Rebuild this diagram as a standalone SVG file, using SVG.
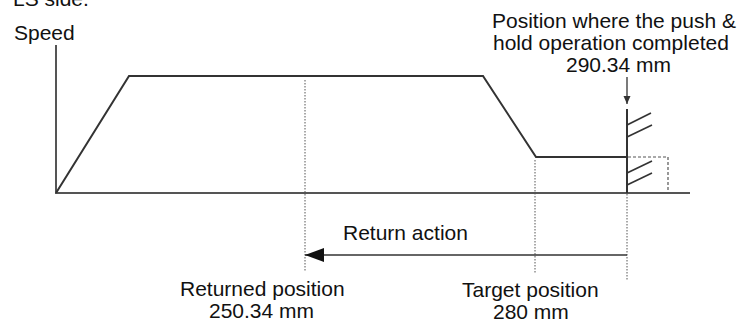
<svg xmlns="http://www.w3.org/2000/svg" width="740" height="325" viewBox="0 0 740 325">
<defs>
<style>
text{font-family:"Liberation Sans",Arial,sans-serif;font-size:21px;fill:#111}
.ax{stroke:#555;stroke-width:2;fill:none}
.cv{stroke:#333;stroke-width:2;fill:none;stroke-linejoin:miter}
.dot{stroke:#555;stroke-width:1;stroke-dasharray:1.5 1.5;fill:none}
.dash{stroke:#555;stroke-width:1.2;stroke-dasharray:3 2;fill:none}
.hat{stroke:#333;stroke-width:1.6;fill:none}
</style>
<marker id="ahBig" markerWidth="20" markerHeight="16" refX="19" refY="8" orient="auto" markerUnits="userSpaceOnUse">
<path d="M19,8 L0,1 L0,15 Z" fill="#111"/>
</marker>
<marker id="ahSmall" markerWidth="9" markerHeight="9" refX="8" refY="4" orient="auto" markerUnits="userSpaceOnUse">
<path d="M8,4 L0,0.5 L0,7.5 Z" fill="#333"/>
</marker>
</defs>
<rect width="740" height="325" fill="#fff"/>
<text x="13" y="6">LS side.</text>
<g id="axes">
<line class="ax" x1="56" y1="45" x2="56" y2="193"/>
<line class="ax" x1="55" y1="193" x2="690" y2="193"/>
<text x="14" y="40">Speed</text>
</g>
<g id="speed-profile">
<polyline class="cv" points="56,193 129,76 483,76 536,157 627,157"/>
</g>
<g id="wall">
<line class="cv" x1="627" y1="109" x2="627" y2="193"/>
<line class="hat" x1="627" y1="125" x2="651" y2="113"/>
<line class="hat" x1="627" y1="137" x2="652" y2="125"/>
<line class="hat" x1="627" y1="173" x2="652" y2="161"/>
<line class="hat" x1="627" y1="185" x2="652" y2="173"/>
<polyline class="dash" points="628,157 668,157 668,193"/>
</g>
<g id="connectors">
<line class="dot" x1="305" y1="80" x2="305" y2="272"/>
<line class="dot" x1="535" y1="160" x2="535" y2="273"/>
<line class="dot" x1="627" y1="194" x2="627" y2="280"/>
<line x1="627" y1="77" x2="627" y2="104" stroke="#333" stroke-width="1.3" marker-end="url(#ahSmall)"/>
<line x1="627" y1="255" x2="305" y2="255" stroke="#333" stroke-width="1.5" marker-end="url(#ahBig)"/>
</g>
<g id="label-push">
<text x="492" y="28">Position where the push &amp;</text>
<text x="493" y="50">hold operation completed</text>
<text x="566" y="72">290.34 mm</text>
</g>
<g id="label-return">
<text x="343" y="240">Return action</text>
</g>
<g id="label-returned">
<text x="180" y="296">Returned position</text>
<text x="209" y="318">250.34 mm</text>
</g>
<g id="label-target">
<text x="462" y="297">Target position</text>
<text x="493" y="319">280 mm</text>
</g>
</svg>
